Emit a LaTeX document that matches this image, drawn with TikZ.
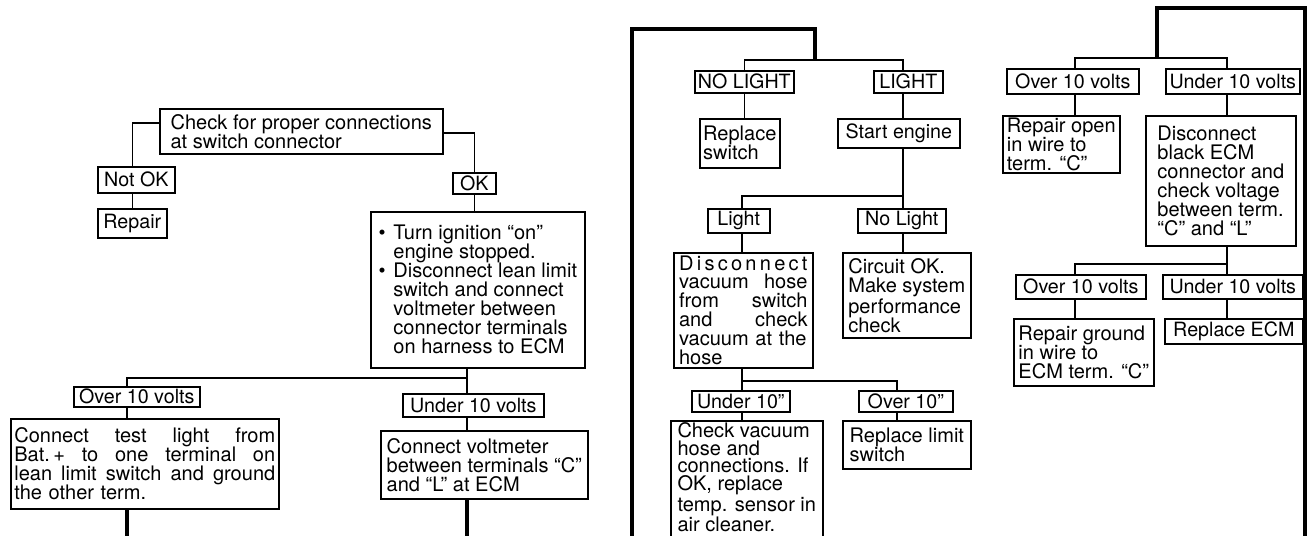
\documentclass[tikz,border=0pt]{standalone}
\usepackage{fontspec}
\setmainfont{TeX Gyre Heros}
\usepackage{tikz}
\newcommand\jline[1]{{\spaceskip=0.28em plus 1fil\makebox[\linewidth][s]{#1}}}
\newcommand\bul{\makebox[8.5pt][l]{\textbullet}}
\tikzset{
  tbox/.style 2 args={draw, line width=0.9pt, anchor=north west, inner xsep=1pt, inner ysep=0pt,
    align=left, minimum width=#1*0.02cm, minimum height=#2*0.02cm, font=\fontsize{11.4}{10.8}\selectfont},
  jbox/.style 2 args={tbox={#1}{#2}, inner xsep=2pt, text width=#1*0.02cm-4pt},
  lbl/.style 2 args={draw, line width=0.9pt, anchor=north west, inner xsep=0.5pt, inner ysep=0pt,
    minimum width=#1*0.02cm, minimum height=#2*0.02cm, font=\fontsize{11.2}{10.8}\selectfont},
  link/.style={line width=0.9pt},
  trunk/.style={line width=2pt},
}
\begin{document}
\begin{tikzpicture}[x=0.02cm,y=-0.02cm]
        \clip (0,0) rectangle (1307,535);
        \node[tbox={283}{45}] (chk) at (159,108) {Check for proper connections\\at switch connector};
        \node[lbl={77}{26}] (notok) at (97,166) {Not OK};
        \node[lbl={69}{29}] (repair) at (97,208) {Repair};
        \node[lbl={43}{21}] (ok) at (452,172) {OK};
        \node[tbox={214}{156}] (big) at (370,211) {\bul Turn ignition “on”\\\hspace*{8.5pt}engine stopped.\\
          \bul Disconnect lean limit\\\hspace*{8.5pt}switch and connect\\\hspace*{8.5pt}voltmeter between\\
          \hspace*{8.5pt}connector terminals\\\hspace*{8.5pt}on harness to ECM};
        \node[lbl={126}{20}] (over1) at (73,386) {Over 10 volts};
        \node[lbl={141}{23}] (under1) at (402,393) {Under 10 volts};
        \node[jbox={268}{90}] (tlight) at (10,418) {\jline{Connect test light from}\\
          \jline{Bat.\,+ to one terminal on}\\\jline{lean limit switch and ground}\\the other term.};
        \node[tbox={207}{68}] (cvolt) at (380,430) {Connect voltmeter\\between terminals “C”\\and “L” at ECM};

        \coordinate (jL) at (127,378);  \coordinate (jR) at (467,378);  \coordinate (bot) at (0,540);
        \draw[link] ([yshift=0.17cm]chk.west) -| (repair.north |- notok.north);
        \draw[link] (repair.north |- notok.south) -- (repair.north);
        \draw[link] ([yshift=-0.03cm]chk.east) -| (ok.north);
        \draw[link] (ok.south) -- (ok.south |- big.north);
        \draw[link] (jR |- big.south) -- (jR) -- (jL) -- (jL |- over1.north);
        \draw[link] (jR) -- (jR |- under1.north);
        \draw[link] (jL |- over1.south) -- (jL |- tlight.north);
        \draw[link] (jR |- under1.south) -- (jR |- cvolt.north);
        \draw[trunk] (jL |- tlight.south) -- (jL |- bot);
        \draw[trunk] (jR |- cvolt.south) -- (jR |- bot);

        \node[lbl={99}{22}] (nolight) at (694,70) {NO LIGHT};
        \node[lbl={69}{22}] (light) at (873,70) {LIGHT};
        \node[tbox={80}{49}] (repsw) at (699,118) {Replace\\switch};
        \node[lbl={122}{29}] (start) at (837,118) {Start engine};
        \node[lbl={62}{24}] (lightb) at (707,208) {Light};
        \node[lbl={88}{24}] (nolightb) at (857,208) {No Light};
        \node[jbox={139}{115}, inner xsep=3pt, text width=139*0.02cm-6pt] (disc) at (673,252)
          {\jline{D\hfill i\hfill s\hfill c\hfill o\hfill n\hfill n\hfill e\hfill c\hfill t}\\
          \jline{vacuum hose}\\\jline{from switch}\\\jline{and check}\\vacuum at the\\hose};
        \node[tbox={128}{85}] (circ) at (842,252) {Circuit OK.\\Make system\\performance\\check};
        \node[lbl={98}{21}] (under10) at (691,390) {Under 10''};
        \node[lbl={94}{21}] (over10) at (858,390) {Over 10''};
        \node[tbox={152}{116}, font=\fontsize{11.4}{10.2}\selectfont, text depth=2pt] (vac) at (670,420)
          {Check vacuum\\hose and\\connections. If\\OK, replace\\temp. sensor in\\air cleaner.};
        \node[tbox={128}{48}] (limit) at (842,420) {Replace limit\\switch};

        \coordinate (mB) at (632,540);  \coordinate (mK) at (815,29);  \coordinate (jM) at (815,60);
        \coordinate (jS) at (903,196);  \coordinate (jV) at (742,381);  \coordinate (jW) at (897,381);
        \draw[trunk] (mB) |- (mK) -- (jM);
        \draw[link] (nolight.north) |- (jM) -| (jS |- light.north);
        \draw[link] (nolight.south) -- (nolight.south |- repsw.north);
        \draw[link] (jS |- light.south) -- (jS |- start.north);
        \draw[link] (jS |- start.south) -- (jS) -| (jV |- lightb.north);
        \draw[link] (jS) -- (jS |- nolightb.north);
        \draw[link] (jV |- lightb.south) -- (jV |- disc.north);
        \draw[link] (jS |- nolightb.south) -- (jS |- circ.north);
        \draw[link] (jV |- disc.south) -- (jV) -- (jW) -- (jW |- over10.north);
        \draw[link] (jV) -- (jV |- under10.north);
        \draw[link] (jV |- under10.south) -- (jV |- vac.north);
        \draw[link] (jW |- over10.south) -- (jW |- limit.north);

        \node[lbl={132}{25}] (over2) at (1006,68) {Over 10 volts};
        \node[lbl={134}{25}] (under2) at (1165,68) {Under 10 volts};
        \node[tbox={117}{57}] (ropen) at (1002,115) {Repair open\\in wire to\\term. “C”};
        \node[tbox={150}{130}] (dblk) at (1145,115) {Disconnect\\black ECM\\connector and\\check voltage\\between term.\\“C” and “L”};
        \node[lbl={130}{24}] (over3) at (1015,274) {Over 10 volts};
        \node[lbl={140}{24}] (under3) at (1162,274) {Under 10 volts};
        \node[tbox={140}{67}] (rgnd) at (1013,318) {Repair ground\\in wire to\\ECM term. “C”};
        \node[lbl={138}{25}] (recm) at (1164,318) {Replace ECM};

        \coordinate (rB) at (1305,540);  \coordinate (rK) at (1157,8);  \coordinate (jN) at (1157,58);
        \coordinate (jA) at (1075,58);  \coordinate (jC) at (1227,58);
        \coordinate (jD) at (1075,264);  \coordinate (jE) at (1227,264);
        \draw[trunk] (rB) |- (rK) -- (jN);
        \draw[link] (jA |- over2.north) -- (jA) -- (jC) -- (jC |- under2.north);
        \draw[link] (jA |- over2.south) -- (jA |- ropen.north);
        \draw[link] (jC |- under2.south) -- (jC |- dblk.north);
        \draw[link] (jC |- dblk.south) -- (jE) -- (jD) -- (jD |- over3.north);
        \draw[link] (jE) -- (jE |- under3.north);
        \draw[link] (jD |- over3.south) -- (jD |- rgnd.north);
        \draw[link] (jE |- under3.south) -- (jE |- recm.north);
\end{tikzpicture}
\end{document}
